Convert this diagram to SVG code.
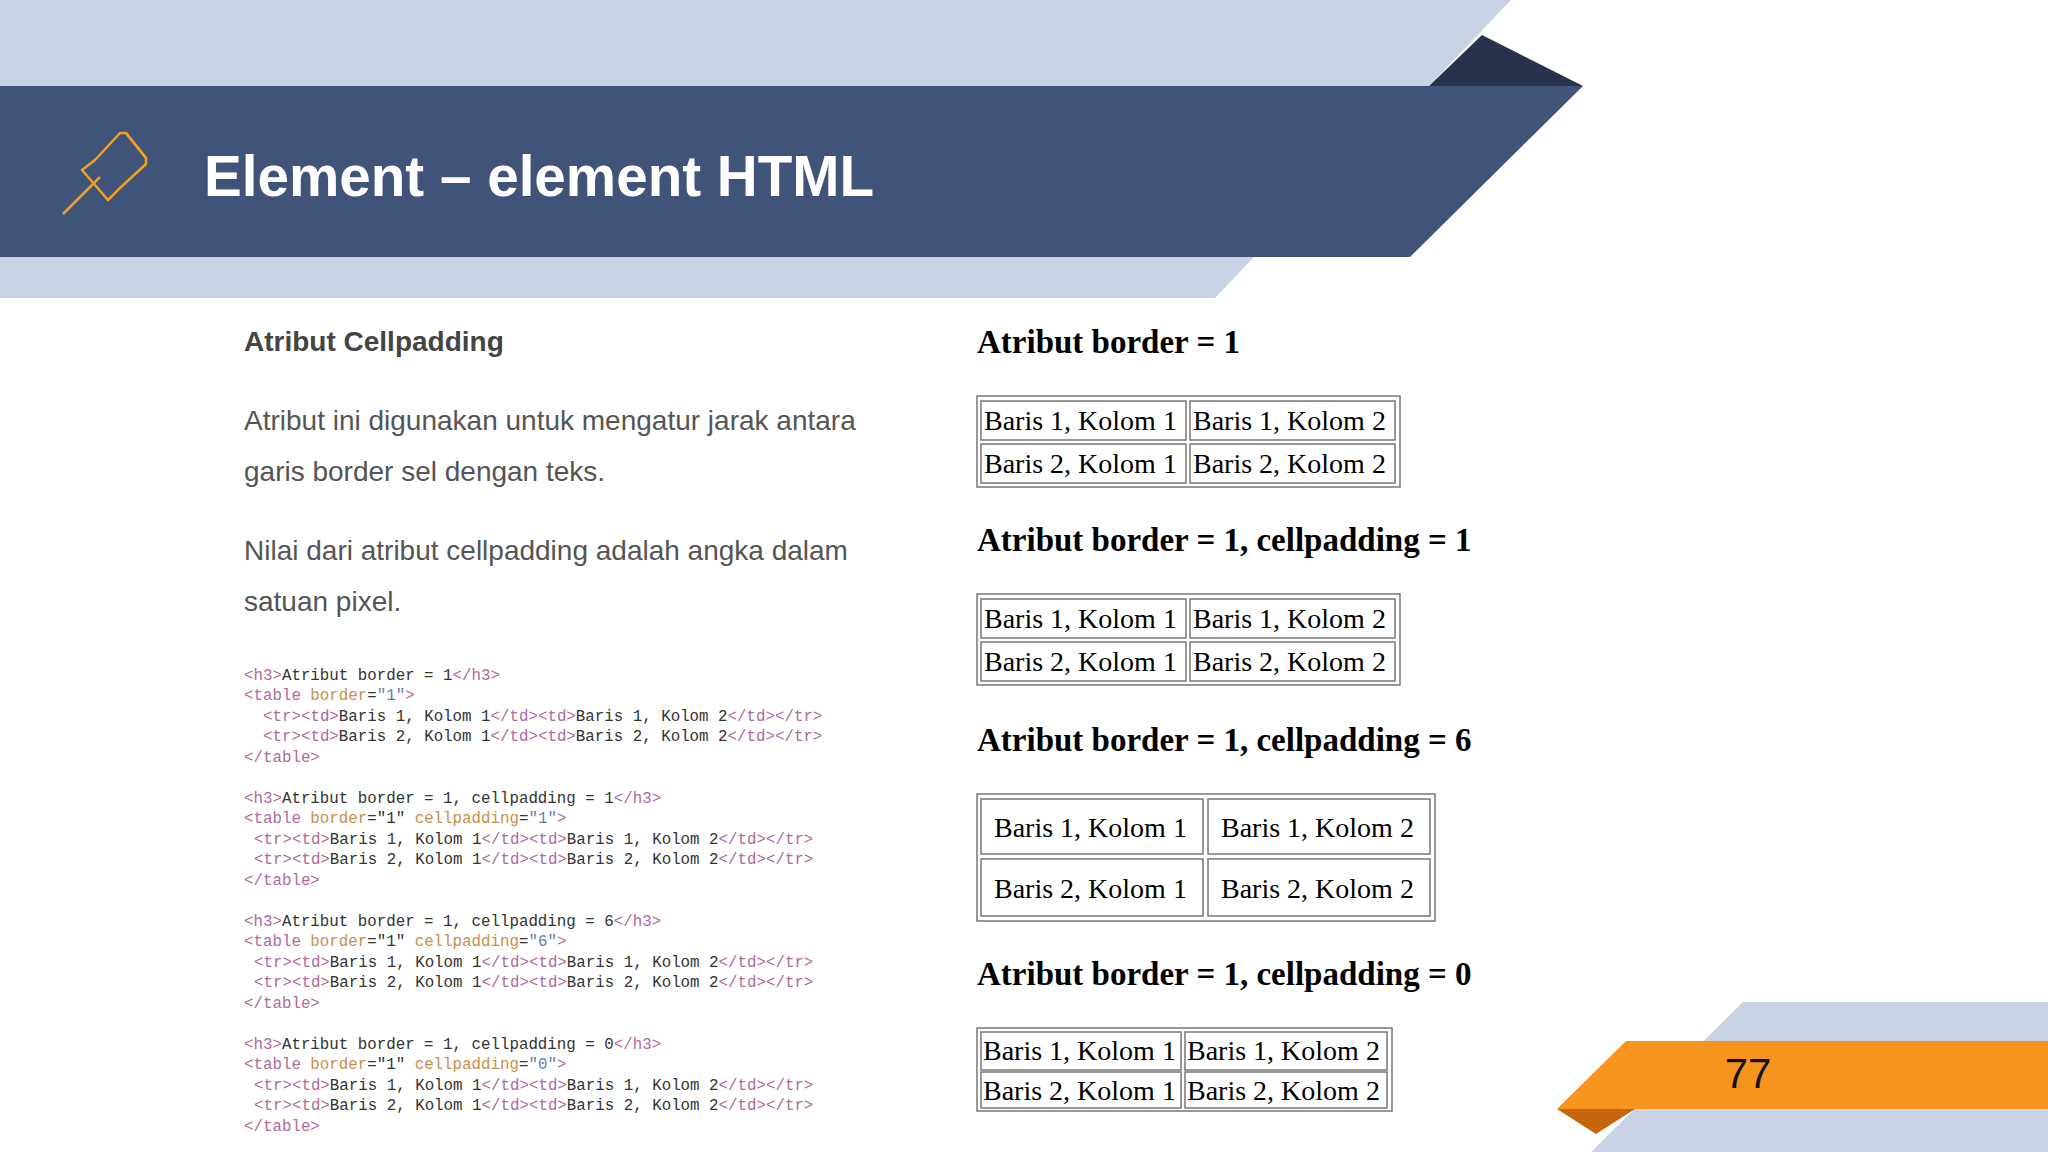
<svg xmlns="http://www.w3.org/2000/svg" width="2048" height="1152" viewBox="0 0 2048 1152">
<style>
.p{font-family:"Liberation Sans",Arial,sans-serif;font-size:28px;fill:#555}
.c{font-family:"Liberation Mono","DejaVu Sans Mono",monospace;font-size:15.8px;fill:#333}
.t{fill:#b06a9a}.a{fill:#c8904a}.v{fill:#6a7ab0}
.h{font-family:"Liberation Serif","Times New Roman",serif;font-size:33px;font-weight:bold;fill:#000}
.td{font-family:"Liberation Serif","Times New Roman",serif;font-size:28px;fill:#000}
.b{fill:none;stroke:#777;stroke-width:1.5}
</style>
<rect width="2048" height="1152" fill="#fff"/>
<polygon points="0,0 1511,0 1429,86 0,86" fill="#c8d4e4"/>
<polygon points="0,257 1254,257 1215,298 0,298" fill="#c8d4e4"/>
<polygon points="1482,35 1583,86 1429,86" fill="#27334c"/>
<polygon points="0,86 1583,86 1410,257 0,257" fill="#40547a"/>
<g id="pin" fill="none" stroke="#f0a020" stroke-width="2.5" stroke-linejoin="round">
<path d="M63,214 L100,177"/>
<path d="M82,170 L95,160 L120,133 L126,133 L146,158 L146,164 L120,188 L108,200 Z"/>
<path d="M126,133 L146,158"/>
</g>
<text x="204" y="196" font-family="Liberation Sans,Arial,sans-serif" font-size="57" font-weight="bold" fill="#fff" textLength="670" lengthAdjust="spacingAndGlyphs">Element – element HTML</text>
<text x="244" y="351" font-family="Liberation Sans,Arial,sans-serif" font-size="28" font-weight="bold" fill="#444">Atribut Cellpadding</text>
<text class="p" x="244" y="430">Atribut ini digunakan untuk mengatur jarak antara</text>
<text class="p" x="244" y="481">garis border sel dengan teks.</text>
<text class="p" x="244" y="560">Nilai dari atribut cellpadding adalah angka dalam</text>
<text class="p" x="244" y="611">satuan pixel.</text>
<g id="code" class="c" xml:space="preserve">
<text x="244" y="680"><tspan class="t">&lt;h3&gt;</tspan>Atribut border = 1<tspan class="t">&lt;/h3&gt;</tspan></text>
<text x="244" y="700"><tspan class="t">&lt;table </tspan><tspan class="a">border</tspan>=<tspan class="v">"1"</tspan><tspan class="t">&gt;</tspan></text>
<text x="263" y="721"><tspan class="t">&lt;tr&gt;&lt;td&gt;</tspan>Baris 1, Kolom 1<tspan class="t">&lt;/td&gt;&lt;td&gt;</tspan>Baris 1, Kolom 2<tspan class="t">&lt;/td&gt;&lt;/tr&gt;</tspan></text>
<text x="263" y="741"><tspan class="t">&lt;tr&gt;&lt;td&gt;</tspan>Baris 2, Kolom 1<tspan class="t">&lt;/td&gt;&lt;td&gt;</tspan>Baris 2, Kolom 2<tspan class="t">&lt;/td&gt;&lt;/tr&gt;</tspan></text>
<text x="244" y="762" class="t">&lt;/table&gt;</text>

<text x="244" y="803"><tspan class="t">&lt;h3&gt;</tspan>Atribut border = 1, cellpadding = 1<tspan class="t">&lt;/h3&gt;</tspan></text>
<text x="244" y="823"><tspan class="t">&lt;table </tspan><tspan class="a">border</tspan>="1" <tspan class="a">cellpadding</tspan>=<tspan class="v">"1"</tspan><tspan class="t">&gt;</tspan></text>
<text x="254" y="844"><tspan class="t">&lt;tr&gt;&lt;td&gt;</tspan>Baris 1, Kolom 1<tspan class="t">&lt;/td&gt;&lt;td&gt;</tspan>Baris 1, Kolom 2<tspan class="t">&lt;/td&gt;&lt;/tr&gt;</tspan></text>
<text x="254" y="864"><tspan class="t">&lt;tr&gt;&lt;td&gt;</tspan>Baris 2, Kolom 1<tspan class="t">&lt;/td&gt;&lt;td&gt;</tspan>Baris 2, Kolom 2<tspan class="t">&lt;/td&gt;&lt;/tr&gt;</tspan></text>
<text x="244" y="885" class="t">&lt;/table&gt;</text>

<text x="244" y="926"><tspan class="t">&lt;h3&gt;</tspan>Atribut border = 1, cellpadding = 6<tspan class="t">&lt;/h3&gt;</tspan></text>
<text x="244" y="946"><tspan class="t">&lt;table </tspan><tspan class="a">border</tspan>="1" <tspan class="a">cellpadding</tspan>=<tspan class="v">"6"</tspan><tspan class="t">&gt;</tspan></text>
<text x="254" y="967"><tspan class="t">&lt;tr&gt;&lt;td&gt;</tspan>Baris 1, Kolom 1<tspan class="t">&lt;/td&gt;&lt;td&gt;</tspan>Baris 1, Kolom 2<tspan class="t">&lt;/td&gt;&lt;/tr&gt;</tspan></text>
<text x="254" y="987"><tspan class="t">&lt;tr&gt;&lt;td&gt;</tspan>Baris 2, Kolom 1<tspan class="t">&lt;/td&gt;&lt;td&gt;</tspan>Baris 2, Kolom 2<tspan class="t">&lt;/td&gt;&lt;/tr&gt;</tspan></text>
<text x="244" y="1008" class="t">&lt;/table&gt;</text>

<text x="244" y="1049"><tspan class="t">&lt;h3&gt;</tspan>Atribut border = 1, cellpadding = 0<tspan class="t">&lt;/h3&gt;</tspan></text>
<text x="244" y="1069"><tspan class="t">&lt;table </tspan><tspan class="a">border</tspan>="1" <tspan class="a">cellpadding</tspan>=<tspan class="v">"0"</tspan><tspan class="t">&gt;</tspan></text>
<text x="254" y="1090"><tspan class="t">&lt;tr&gt;&lt;td&gt;</tspan>Baris 1, Kolom 1<tspan class="t">&lt;/td&gt;&lt;td&gt;</tspan>Baris 1, Kolom 2<tspan class="t">&lt;/td&gt;&lt;/tr&gt;</tspan></text>
<text x="254" y="1110"><tspan class="t">&lt;tr&gt;&lt;td&gt;</tspan>Baris 2, Kolom 1<tspan class="t">&lt;/td&gt;&lt;td&gt;</tspan>Baris 2, Kolom 2<tspan class="t">&lt;/td&gt;&lt;/tr&gt;</tspan></text>
<text x="244" y="1131" class="t">&lt;/table&gt;</text>
</g>

<g id="table1">
<text class="h" x="977" y="353">Atribut border = 1</text>
<rect class="b" x="977" y="396" width="423" height="91"/>
<rect class="b" x="981" y="401" width="205" height="39"/><rect class="b" x="1190" y="401" width="205" height="39"/>
<rect class="b" x="981" y="444" width="205" height="39"/><rect class="b" x="1190" y="444" width="205" height="39"/>
<text class="td" x="984" y="430">Baris 1, Kolom 1</text><text class="td" x="1193" y="430">Baris 1, Kolom 2</text>
<text class="td" x="984" y="473">Baris 2, Kolom 1</text><text class="td" x="1193" y="473">Baris 2, Kolom 2</text>
</g>
<g id="table2">
<text class="h" x="977" y="551">Atribut border = 1, cellpadding = 1</text>
<rect class="b" x="977" y="594" width="423" height="91"/>
<rect class="b" x="981" y="599" width="205" height="39"/><rect class="b" x="1190" y="599" width="205" height="39"/>
<rect class="b" x="981" y="642" width="205" height="39"/><rect class="b" x="1190" y="642" width="205" height="39"/>
<text class="td" x="984" y="628">Baris 1, Kolom 1</text><text class="td" x="1193" y="628">Baris 1, Kolom 2</text>
<text class="td" x="984" y="671">Baris 2, Kolom 1</text><text class="td" x="1193" y="671">Baris 2, Kolom 2</text>
</g>
<g id="table3">
<text class="h" x="977" y="751">Atribut border = 1, cellpadding = 6</text>
<rect class="b" x="977" y="794" width="458" height="127"/>
<rect class="b" x="981" y="799" width="222" height="55"/><rect class="b" x="1208" y="799" width="222" height="55"/>
<rect class="b" x="981" y="859" width="222" height="57"/><rect class="b" x="1208" y="859" width="222" height="57"/>
<text class="td" x="994" y="837">Baris 1, Kolom 1</text><text class="td" x="1221" y="837">Baris 1, Kolom 2</text>
<text class="td" x="994" y="898">Baris 2, Kolom 1</text><text class="td" x="1221" y="898">Baris 2, Kolom 2</text>
</g>
<g id="table4">
<text class="h" x="977" y="985">Atribut border = 1, cellpadding = 0</text>
<rect class="b" x="977" y="1028" width="415" height="83"/>
<rect class="b" x="981" y="1032" width="200" height="38"/><rect class="b" x="1185" y="1032" width="202" height="38"/>
<rect class="b" x="981" y="1072" width="200" height="36"/><rect class="b" x="1185" y="1072" width="202" height="36"/>
<text class="td" x="983" y="1060">Baris 1, Kolom 1</text><text class="td" x="1187" y="1060">Baris 1, Kolom 2</text>
<text class="td" x="983" y="1100">Baris 2, Kolom 1</text><text class="td" x="1187" y="1100">Baris 2, Kolom 2</text>
</g>
<polygon points="1743,1002 2048,1002 2048,1152 1591,1152" fill="#c8d4e4"/>
<polygon points="1626,1041 2048,1041 2048,1109 1557,1109" fill="#f7941d"/>
<polygon points="1557,1109 1635,1109 1596,1134" fill="#c7650f"/>
<text x="1748" y="1088" text-anchor="middle" font-family="Liberation Sans,Arial,sans-serif" font-size="42" fill="#111">77</text>
</svg>
